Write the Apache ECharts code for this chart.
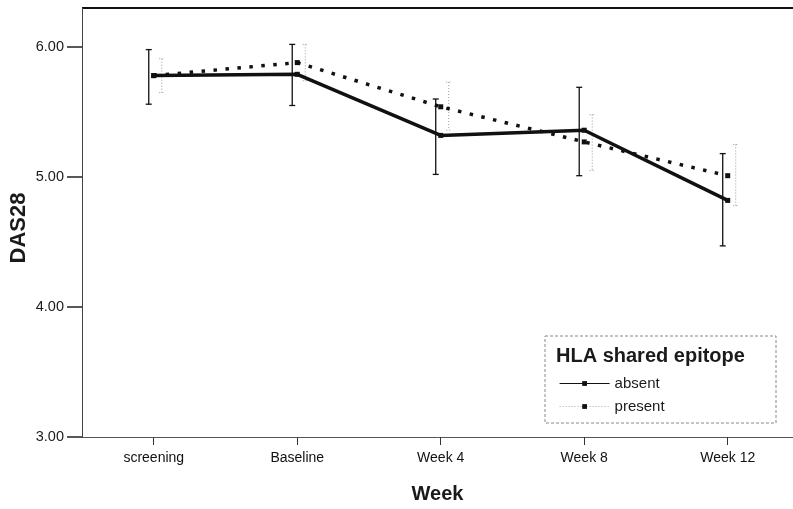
<!DOCTYPE html>
<html>
<head>
<meta charset="utf-8">
<script src="https://cdn.jsdelivr.net/npm/echarts@6/dist/echarts.min.js"></script>
<style>html,body{margin:0;padding:0;background:#fff;}#c{width:793px;height:509px;}</style>
</head>
<body>
<div id="c"></div>
<script>
const categories = ['screening', 'Baseline', 'Week 4', 'Week 8', 'Week 12'];
const absentMean = [5.78, 5.79, 5.32, 5.36, 4.82];
const absentLow  = [5.56, 5.55, 5.02, 5.01, 4.47];
const absentHigh = [5.98, 6.02, 5.60, 5.69, 5.18];
const presentMean = [5.78, 5.88, 5.54, 5.27, 5.01];
const presentLow  = [5.65, 5.74, 5.36, 5.05, 4.78];
const presentHigh = [5.91, 6.02, 5.73, 5.48, 5.25];
const yTicks = [3, 4, 5, 6];
const xTicks = categories.map((c, i) => i);

const FONT = '"Liberation Sans", Arial, sans-serif';

function errData(lo, hi) { return lo.map((v, i) => [i, v, hi[i]]); }
function pts(arr) { return arr.map((v, i) => [i, v]); }

function errRender(offset, stroke, dash, width, cap) {
  return function (params, api) {
    const i = api.value(0);
    const lo = api.coord([i, api.value(1)]);
    const hi = api.coord([i, api.value(2)]);
    const x = lo[0] + offset;
    const st = { stroke: stroke, lineWidth: width, lineDash: dash };
    return {
      type: 'group',
      children: [
        { type: 'line', shape: { x1: x, y1: hi[1], x2: x, y2: lo[1] }, style: st },
        { type: 'line', shape: { x1: x - cap, y1: hi[1], x2: x + cap, y2: hi[1] }, style: st },
        { type: 'line', shape: { x1: x - cap, y1: lo[1], x2: x + cap, y2: lo[1] }, style: st }
      ]
    };
  };
}

const chart = echarts.init(document.getElementById('c'), null, { renderer: 'canvas' });
chart.setOption({
  animation: false,
  backgroundColor: '#fff',
  textStyle: { fontFamily: FONT },
  grid: { left: 82, top: 8, right: 0, bottom: 72, containLabel: false, outerBoundsMode: 'none' },
  xAxis: {
    type: 'value',
    min: -0.5,
    max: 4.455,
    name: 'Week',
    nameLocation: 'middle',
    nameGap: 47,
    nameTextStyle: { fontFamily: FONT, fontSize: 20, fontWeight: 'bold', color: '#1a1a1a' },
    axisLine: { onZero: false, lineStyle: { color: '#555', width: 1 } },
    axisTick: { show: true, length: 8, customValues: xTicks, lineStyle: { color: '#333' } },
    axisLabel: { fontFamily: FONT, fontSize: 14, color: '#111', margin: 14, customValues: xTicks,
      formatter: v => categories[Math.round(v)] },
    splitLine: { show: false }
  },
  yAxis: {
    type: 'value',
    min: 3,
    max: 6.3,
    interval: 1,
    axisLine: { show: true, onZero: false, lineStyle: { color: '#444', width: 1 } },
    axisTick: { show: true, length: 15, customValues: yTicks, lineStyle: { color: '#222', width: 1.5 } },
    axisLabel: { fontFamily: FONT, fontSize: 14.5, color: '#1a1a1a', margin: 18, customValues: yTicks,
      formatter: v => v.toFixed(2) },
    splitLine: { show: false }
  },
  legend: {
    left: 554,
    top: 371,
    orient: 'vertical',
    itemWidth: 50,
    itemHeight: 6,
    itemGap: 8,
    z: 20,
    textStyle: { fontFamily: FONT, fontSize: 15, color: '#1a1a1a' },
    data: [
      { name: 'absent', lineStyle: { width: 1.2, color: '#111' } },
      { name: 'present', lineStyle: { width: 1, color: '#aaa', type: [1, 2] } }
    ]
  },
  graphic: [
    { type: 'line', shape: { x1: 82, y1: 8, x2: 793, y2: 8 }, style: { stroke: '#111', lineWidth: 2 } },
    { type: 'text', x: 19, y: 228, rotation: Math.PI / 2,
      style: { text: 'DAS28', fontFamily: FONT, fontSize: 22, fontWeight: 'bold', fill: '#1a1a1a',
        align: 'center', verticalAlign: 'middle' } },
    { type: 'rect', shape: { x: 545, y: 336, width: 231, height: 87 },
      style: { fill: '#fff', stroke: '#888', lineWidth: 1, lineDash: [3, 2] }, z: 5 },
    { type: 'text', x: 556, y: 346, z: 6,
      style: { text: 'HLA shared epitope', fontFamily: FONT, fontSize: 20, fontWeight: 'bold', fill: '#1a1a1a' } }
  ],
  series: [
    {
      name: 'absent err', type: 'custom', data: errData(absentLow, absentHigh),
      renderItem: errRender(-5, '#111', null, 1.3, 3), z: 2, silent: true
    },
    {
      name: 'present err', type: 'custom', data: errData(presentLow, presentHigh),
      renderItem: errRender(8, '#999', [1, 2], 1, 2.5), z: 2, silent: true
    },
    {
      name: 'absent', type: 'line', data: pts(absentMean),
      symbol: 'rect', symbolSize: 5, showSymbol: true,
      lineStyle: { color: '#111', width: 3.5 },
      itemStyle: { color: '#111' }, z: 3
    },
    {
      name: 'present', type: 'line', data: pts(presentMean),
      symbol: 'rect', symbolSize: 5, showSymbol: true,
      lineStyle: { color: '#111', width: 3.5, type: [3.5, 8.5] },
      itemStyle: { color: '#111' }, z: 3
    }
  ]
});
</script>
</body>
</html>
